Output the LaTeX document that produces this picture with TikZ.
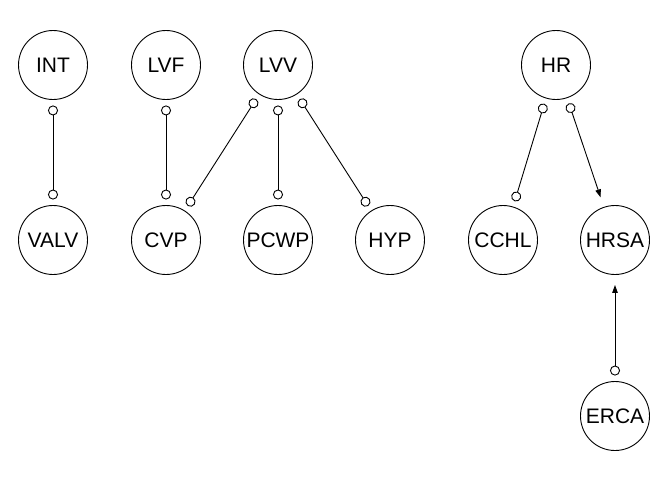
\documentclass[tikz,border=0pt]{standalone}
\usepackage{fontspec}
\setmainfont{Liberation Sans}
\usetikzlibrary{arrows.meta}
\begin{document}
\begin{tikzpicture}[x=1pt,y=-1pt,
  var/.style={draw, circle, line width=0.9pt, minimum size=69pt, inner sep=0pt, font=\fontsize{21}{25}\selectfont},
  oo/.style={line width=0.9pt, {Circle[open,length=10pt,width=10pt]}-{Circle[open,length=10pt,width=10pt]}, shorten <=5.5pt, shorten >=5.5pt},
  oa/.style={line width=0.9pt, {Circle[open,length=10pt,width=10pt]}-{Triangle[length=8pt,width=5.5pt]}, shorten <=5.5pt, shorten >=10pt}]
\path[use as bounding box] (0,0) rectangle (672,480);
\node[var] (INT) at (53,65) {INT};
\node[var] (LVF) at (166,65) {LVF};
\node[var] (LVV) at (278,65) {LVV};
\node[var] (HR) at (556,65) {HR};
\node[var] (VALV) at (53,240) {VALV};
\node[var] (CVP) at (166,240) {CVP};
\node[var] (PCWP) at (278,240) {PCWP};
\node[var] (HYP) at (390,240) {HYP};
\node[var] (CCHL) at (503,240) {CCHL};
\node[var] (HRSA) at (615,240) {HRSA};
\node[var] (ERCA) at (615,416) {ERCA};
\draw[oo] (INT) -- (VALV);
\draw[oo] (LVF) -- (CVP);
\draw[oo] (LVV) -- (CVP);
\draw[oo] (LVV) -- (PCWP);
\draw[oo] (LVV) -- (HYP);
\draw[oo] (HR) -- (CCHL);
\draw[oa] (HR) -- (HRSA);
\draw[oa] (ERCA) -- (HRSA);
\end{tikzpicture}
\end{document}
